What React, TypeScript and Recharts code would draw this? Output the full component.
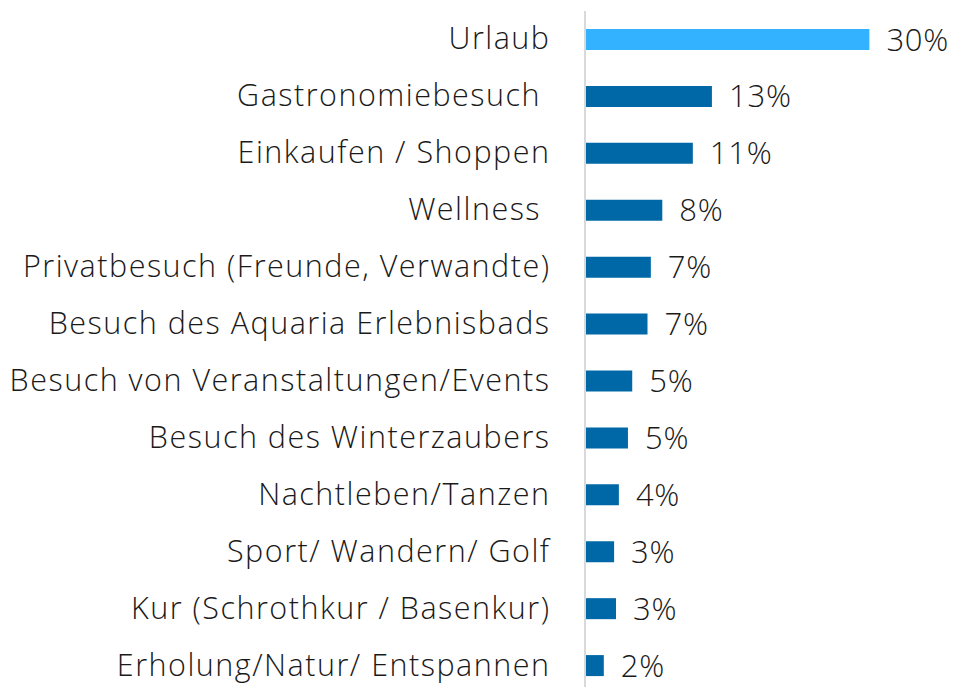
import { BarChart, Bar, XAxis, YAxis, Cell, LabelList } from "recharts";

const categories = [
  "Urlaub",
  "Gastronomiebesuch ",
  "Einkaufen / Shoppen",
  "Wellness ",
  "Privatbesuch (Freunde, Verwandte)",
  "Besuch des Aquaria Erlebnisbads",
  "Besuch von Veranstaltungen/Events",
  "Besuch des Winterzaubers",
  "Nachtleben/Tanzen",
  "Sport/ Wandern/ Golf",
  "Kur (Schrothkur / Basenkur)",
  "Erholung/Natur/ Entspannen",
];

const shares = [29.8, 13.3, 11.3, 8.1, 6.9, 6.55, 4.95, 4.5, 3.55, 3.05, 3.25, 1.97];

const shareLabels = ["30%", "13%", "11%", "8%", "7%", "7%", "5%", "5%", "4%", "3%", "3%", "2%"];

const data = categories.map((name, i) => ({ name, share: shares[i], label: shareLabels[i] }));

const FONT = "'Open Sans', Lato, sans-serif";

function CategoryTick({ x, y, payload }: any) {
  return (
    <text
      x={x + 1.5}
      y={y}
      dy={10}
      textAnchor="end"
      fill="#1a1a1a"
      fontSize={30.5}
      fontWeight={300}
      fontFamily={FONT}
      letterSpacing={1.5}
      style={{ whiteSpace: "pre" }}
    >
      {payload.value}
    </text>
  );
}

export default function App() {
  return (
    <div
      style={{
        position: "absolute",
        left: 0,
        top: 0,
        width: 953,
        height: 687,
        overflow: "hidden",
        background: "#fff",
      }}
    >
      <BarChart
        width={953}
        height={694}
        data={data}
        layout="vertical"
        margin={{ top: 11, right: 34, bottom: 0, left: 0 }}
      >
        <XAxis type="number" domain={[0, 35]} hide />
        <YAxis
          type="category"
          dataKey="name"
          width={585}
          tick={<CategoryTick />}
          tickLine={false}
          tickSize={0}
          tickMargin={36}
          axisLine={{ stroke: "#d9d9d9", strokeWidth: 2 }}
          interval={0}
        />
        <Bar dataKey="share" barSize={21} isAnimationActive={false}>
          {data.map((d, i) => (
            <Cell key={d.name} fill={i === 0 ? "#33b2ff" : "#0068a6"} />
          ))}
          <LabelList
            dataKey="label"
            position="right"
            offset={17}
            fill="#1a1a1a"
            fontSize={31}
            fontWeight={300}
            fontFamily={FONT}
            letterSpacing={0.8}
          />
        </Bar>
      </BarChart>
    </div>
  );
}
